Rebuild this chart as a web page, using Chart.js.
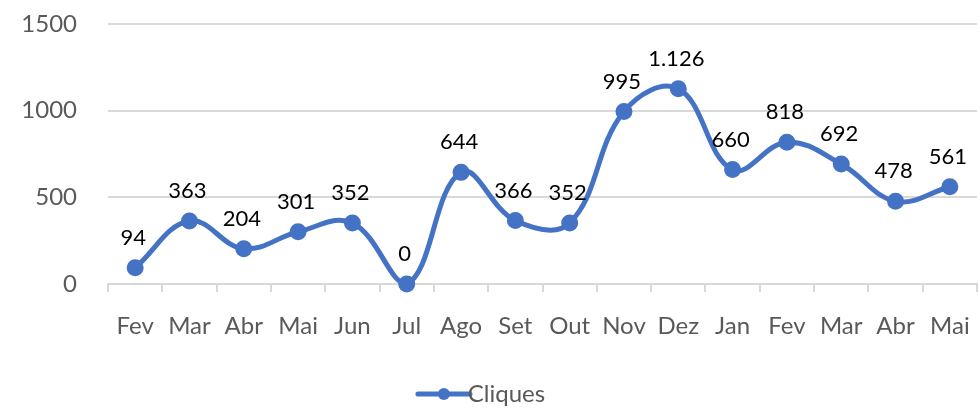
<!DOCTYPE html>
<html>
<head>
<meta charset="utf-8">
<script src="https://cdn.jsdelivr.net/npm/chart.js@4"></script>
<style>
    html, body { margin: 0; padding: 0; background: #fff; }
    #wrap { width: 980px; height: 416px; position: relative; }
</style>
</head>
<body>
<div id="wrap"><canvas id="chart"></canvas></div>
<script>
// Данные
const meses = ['Fev', 'Mar', 'Abr', 'Mai', 'Jun', 'Jul', 'Ago', 'Set', 'Out', 'Nov', 'Dez', 'Jan', 'Fev', 'Mar', 'Abr', 'Mai'];
const cliques = [94, 363, 204, 301, 352, 0, 644, 366, 352, 995, 1126, 660, 818, 692, 478, 561];
const yTicks = [0, 500, 1000, 1500];

const azul = '#4472C4';
const cinza = '#595959';
const fonte = 'Lato, "Open Sans", sans-serif';

// Значок легенды: линия с точкой
function legendIcon() {
    const c = document.createElement('canvas');
    c.width = 58; c.height = 14;
    const g = c.getContext('2d');
    g.strokeStyle = azul;
    g.lineWidth = 5;
    g.lineCap = 'round';
    g.beginPath(); g.moveTo(3, 7); g.lineTo(55, 7); g.stroke();
    g.fillStyle = azul;
    g.beginPath(); g.arc(29, 7, 6, 0, Math.PI * 2); g.fill();
    return c;
}

// Подписи значений над точками
const rotulos = {
    id: 'rotulos',
    afterDatasetsDraw(chart) {
        const ctx = chart.ctx;
        const meta = chart.getDatasetMeta(0);
        ctx.save();
        ctx.font = '22px ' + fonte;
        ctx.fillStyle = '#000';
        ctx.textAlign = 'center';
        ctx.textBaseline = 'middle';
        meta.data.forEach((pt, i) => {
            const v = cliques[i];
            const txt = v >= 1000 ? Math.floor(v / 1000) + '.' + String(v % 1000).padStart(3, '0') : String(v);
            ctx.fillText(txt, pt.x - 2, pt.y - 30);
        });
        ctx.restore();
    }
};

new Chart(document.getElementById('chart'), {
    type: 'line',
    data: {
        labels: meses,
        datasets: [{
            label: 'Cliques',
            data: cliques,
            borderColor: azul,
            backgroundColor: azul,
            borderWidth: 5,
            tension: 0.4,
            pointRadius: 6,
            pointHoverRadius: 6,
            pointStyle: 'circle',
            clip: false
        }]
    },
    options: {
        responsive: true,
        maintainAspectRatio: false,
        animation: false,
        layout: { autoPadding: false, padding: { top: 24, right: 3, left: 0, bottom: 0 } },
        plugins: {
            tooltip: { enabled: false },
            legend: {
                position: 'bottom',
                labels: {
                    usePointStyle: true,
                    pointStyle: legendIcon(),
                    color: cinza,
                    font: { size: 24, family: fonte },
                    padding: 2
                }
            }
        },
        scales: {
            x: {
                offset: true,
                grid: {
                    offset: true,
                    drawOnChartArea: false,
                    drawTicks: true,
                    tickLength: 8,
                    color: '#d9d9d9',
                    lineWidth: 2
                },
                border: { color: '#d9d9d9', width: 2 },
                ticks: {
                    color: cinza,
                    font: { size: 24, family: fonte },
                    maxRotation: 0,
                    autoSkip: false,
                    padding: 20
                },
                afterFit(s) {
                    s.height = 96;
                    s.paddingLeft = 0;
                    s.paddingRight = 0;
                }
            },
            y: {
                min: 0,
                max: 1500,
                afterBuildTicks(s) { s.ticks = yTicks.map(v => ({ value: v })); },
                grid: { color: '#d9d9d9', lineWidth: 2, drawTicks: false },
                border: { display: false },
                ticks: {
                    color: cinza,
                    font: { size: 24, family: fonte },
                    padding: 31,
                    callback: v => String(v)
                },
                afterFit(s) {
                    s.width = 108;
                    s.paddingTop = 0;
                    s.paddingBottom = 0;
                }
            }
        }
    },
    plugins: [rotulos]
});
</script>
</body>
</html>
